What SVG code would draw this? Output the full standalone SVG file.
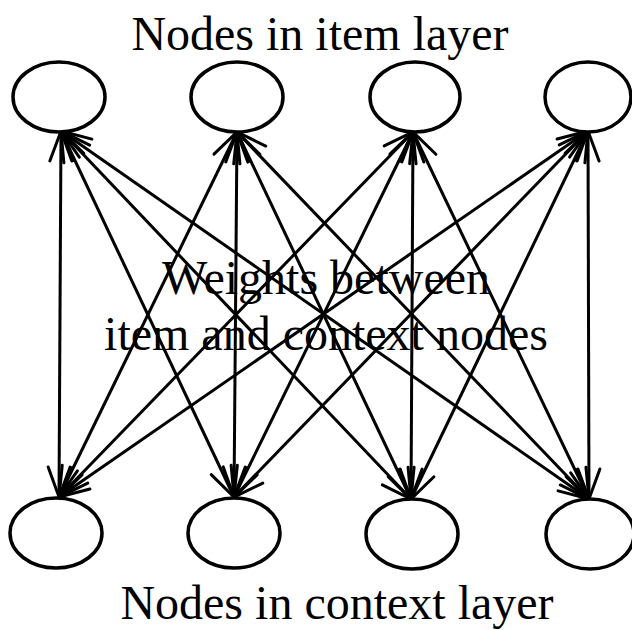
<svg xmlns="http://www.w3.org/2000/svg" width="632" height="630" viewBox="0 0 632 630">
<defs>
<style>
.node{fill:#fff;stroke:#000;stroke-width:3.5}
.lbl{font-family:"Liberation Serif","Times New Roman",serif;font-size:48px;fill:#000;text-anchor:middle}
.edge{stroke:#000;stroke-width:3;fill:none;marker-start:url(#ah);marker-end:url(#ah)}
</style>
<marker id="ah" markerUnits="userSpaceOnUse" orient="auto-start-reverse" refX="0" refY="0" markerWidth="40" markerHeight="40" viewBox="-40 -20 40 40" overflow="visible">
<path d="M-30,-11 L0,0 L-30,11" fill="none" stroke="#000" stroke-width="3" stroke-linecap="round"/>
</marker>
</defs>
<rect width="632" height="630" fill="#fff"/>
<text class="lbl" x="320" y="50">Nodes in item layer</text>
<text class="lbl" x="337" y="619">Nodes in context layer</text>
<g id="connectors">
<line class="edge" x1="61" y1="131" x2="59" y2="497"/>
<line class="edge" x1="61" y1="131" x2="234" y2="497"/>
<line class="edge" x1="61" y1="131" x2="411" y2="499"/>
<line class="edge" x1="61" y1="131" x2="589" y2="499"/>
<line class="edge" x1="237" y1="132" x2="59" y2="497"/>
<line class="edge" x1="237" y1="132" x2="234" y2="497"/>
<line class="edge" x1="237" y1="132" x2="411" y2="499"/>
<line class="edge" x1="237" y1="132" x2="589" y2="499"/>
<line class="edge" x1="413" y1="132" x2="59" y2="497"/>
<line class="edge" x1="413" y1="132" x2="234" y2="497"/>
<line class="edge" x1="413" y1="132" x2="411" y2="499"/>
<line class="edge" x1="413" y1="132" x2="589" y2="499"/>
<line class="edge" x1="588" y1="131" x2="59" y2="497"/>
<line class="edge" x1="588" y1="131" x2="234" y2="497"/>
<line class="edge" x1="588" y1="131" x2="411" y2="499"/>
<line class="edge" x1="588" y1="131" x2="589" y2="499"/>
</g>
<g id="item1"><ellipse class="node" cx="59" cy="97" rx="46" ry="35"/></g>
<g id="item2"><ellipse class="node" cx="237" cy="97" rx="46" ry="35"/></g>
<g id="item3"><ellipse class="node" cx="415" cy="97" rx="45" ry="35"/></g>
<g id="item4"><ellipse class="node" cx="588" cy="97" rx="43" ry="35"/></g>
<g id="context1"><ellipse class="node" cx="56" cy="533" rx="46" ry="35"/></g>
<g id="context2"><ellipse class="node" cx="234" cy="533" rx="46" ry="35"/></g>
<g id="context3"><ellipse class="node" cx="412" cy="534" rx="46" ry="35"/></g>
<g id="context4"><ellipse class="node" cx="590" cy="534" rx="44" ry="35"/></g>
<text class="lbl" x="326" y="294">Weights between</text>
<text class="lbl" x="326" y="350">item and context nodes</text>
</svg>
